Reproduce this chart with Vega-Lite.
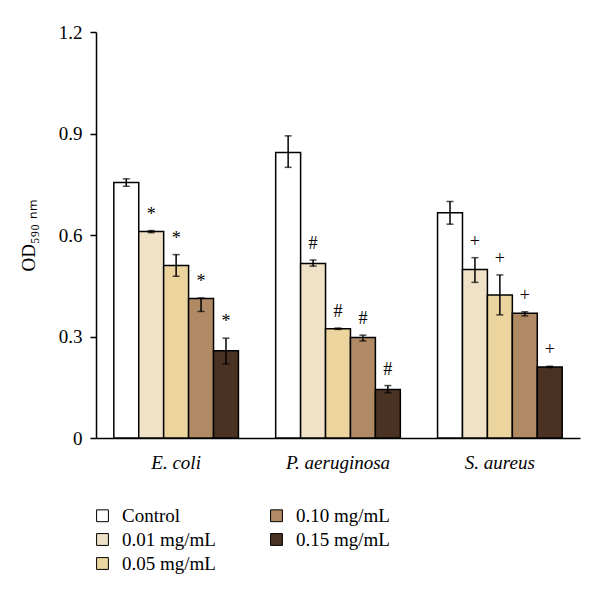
{
  "$schema": "https://vega.github.io/schema/vega-lite/v6.json",
  "width": 484,
  "height": 406,
  "autosize": "none",
  "padding": {"left": 96, "top": 32, "right": 20, "bottom": 159},
  "background": "white",
  "config": {
    "view": {"stroke": null},
    "font": "Liberation Serif",
    "axis": {"labelFont": "Liberation Serif", "titleFont": "Liberation Serif", "domainColor": "black", "tickColor": "black", "labelColor": "black", "titleColor": "black", "grid": false},
    "legend": {"labelFont": "Liberation Serif"}
  },
  "data": {
    "values": [
      {"bacteria": "E. coli", "treatment": "Control", "mean": 0.755, "lo": 0.744, "hi": 0.766, "sig": ""},
      {"bacteria": "E. coli", "treatment": "0.01 mg/mL", "mean": 0.610, "lo": 0.607, "hi": 0.613, "sig": "*"},
      {"bacteria": "E. coli", "treatment": "0.05 mg/mL", "mean": 0.510, "lo": 0.478, "hi": 0.542, "sig": "*"},
      {"bacteria": "E. coli", "treatment": "0.10 mg/mL", "mean": 0.412, "lo": 0.374, "hi": 0.414, "sig": "*"},
      {"bacteria": "E. coli", "treatment": "0.15 mg/mL", "mean": 0.258, "lo": 0.219, "hi": 0.295, "sig": "*"},
      {"bacteria": "P. aeruginosa", "treatment": "Control", "mean": 0.844, "lo": 0.800, "hi": 0.893, "sig": ""},
      {"bacteria": "P. aeruginosa", "treatment": "0.01 mg/mL", "mean": 0.516, "lo": 0.508, "hi": 0.526, "sig": "#"},
      {"bacteria": "P. aeruginosa", "treatment": "0.05 mg/mL", "mean": 0.323, "lo": 0.321, "hi": 0.325, "sig": "#"},
      {"bacteria": "P. aeruginosa", "treatment": "0.10 mg/mL", "mean": 0.297, "lo": 0.287, "hi": 0.304, "sig": "#"},
      {"bacteria": "P. aeruginosa", "treatment": "0.15 mg/mL", "mean": 0.143, "lo": 0.134, "hi": 0.155, "sig": "#"},
      {"bacteria": "S. aureus", "treatment": "Control", "mean": 0.666, "lo": 0.632, "hi": 0.699, "sig": ""},
      {"bacteria": "S. aureus", "treatment": "0.01 mg/mL", "mean": 0.498, "lo": 0.460, "hi": 0.533, "sig": "+"},
      {"bacteria": "S. aureus", "treatment": "0.05 mg/mL", "mean": 0.423, "lo": 0.364, "hi": 0.482, "sig": "+"},
      {"bacteria": "S. aureus", "treatment": "0.10 mg/mL", "mean": 0.369, "lo": 0.361, "hi": 0.373, "sig": "+"},
      {"bacteria": "S. aureus", "treatment": "0.15 mg/mL", "mean": 0.210, "lo": 0.208, "hi": 0.212, "sig": "+"}
    ]
  },
  "encoding": {
    "x": {"field": "bacteria", "type": "nominal", "sort": ["E. coli", "P. aeruginosa", "S. aureus"],
      "scale": {"paddingInner": 0.23, "paddingOuter": 0.11},
      "axis": {"title": null, "labelAngle": 0, "ticks": false, "labelFontSize": 19, "labelFontStyle": "italic", "labelPadding": 15, "domainWidth": 1.5}},
    "xOffset": {"field": "treatment", "type": "nominal", "sort": ["Control", "0.01 mg/mL", "0.05 mg/mL", "0.10 mg/mL", "0.15 mg/mL"], "scale": {"paddingInner": 0, "paddingOuter": 0}}
  },
  "layer": [
    {
      "mark": {"type": "bar", "stroke": "black", "strokeWidth": 1.5, "opacity": 1},
      "encoding": {
        "y": {"field": "mean", "type": "quantitative", "scale": {"domain": [0, 1.2], "nice": false},
          "axis": {"title": "OD₅₉₀ ₙₘ", "titleFontSize": 19, "titleFontWeight": "normal", "titlePadding": 20, "values": [0, 0.3, 0.6, 0.9, 1.2], "labelExpr": "datum.value == 0 ? '0' : format(datum.value, '.1f')", "labelFontSize": 19, "tickSize": 6, "labelPadding": 8, "domainWidth": 1.5, "tickWidth": 1.5}},
        "color": {"field": "treatment", "type": "nominal",
          "scale": {"domain": ["Control", "0.01 mg/mL", "0.05 mg/mL", "0.10 mg/mL", "0.15 mg/mL"], "range": ["#ffffff", "#efe2c6", "#ecd49e", "#b08a64", "#4a3222"]},
          "legend": {"title": null, "orient": "none", "legendX": -3, "legendY": 474, "columns": 2, "columnPadding": 51, "rowPadding": 4, "symbolType": "square", "symbolSize": 140, "symbolStrokeColor": "black", "symbolStrokeWidth": 1, "symbolOpacity": 1, "labelFontSize": 19, "labelOffset": 10, "labelColor": "black"}}
      }
    },
    {
      "mark": {"type": "rule", "color": "black", "strokeWidth": 1.5},
      "encoding": {"y": {"field": "lo", "type": "quantitative"}, "y2": {"field": "hi"}}
    },
    {
      "mark": {"type": "tick", "color": "black", "thickness": 1.5, "size": 7, "orient": "horizontal"},
      "encoding": {"y": {"field": "lo", "type": "quantitative"}}
    },
    {
      "mark": {"type": "tick", "color": "black", "thickness": 1.5, "size": 7, "orient": "horizontal"},
      "encoding": {"y": {"field": "hi", "type": "quantitative"}}
    },
    {
      "mark": {"type": "text", "fontSize": 18, "baseline": "middle", "dy": -16, "color": "black"},
      "encoding": {"y": {"field": "hi", "type": "quantitative"}, "text": {"field": "sig"}}
    }
  ]
}
